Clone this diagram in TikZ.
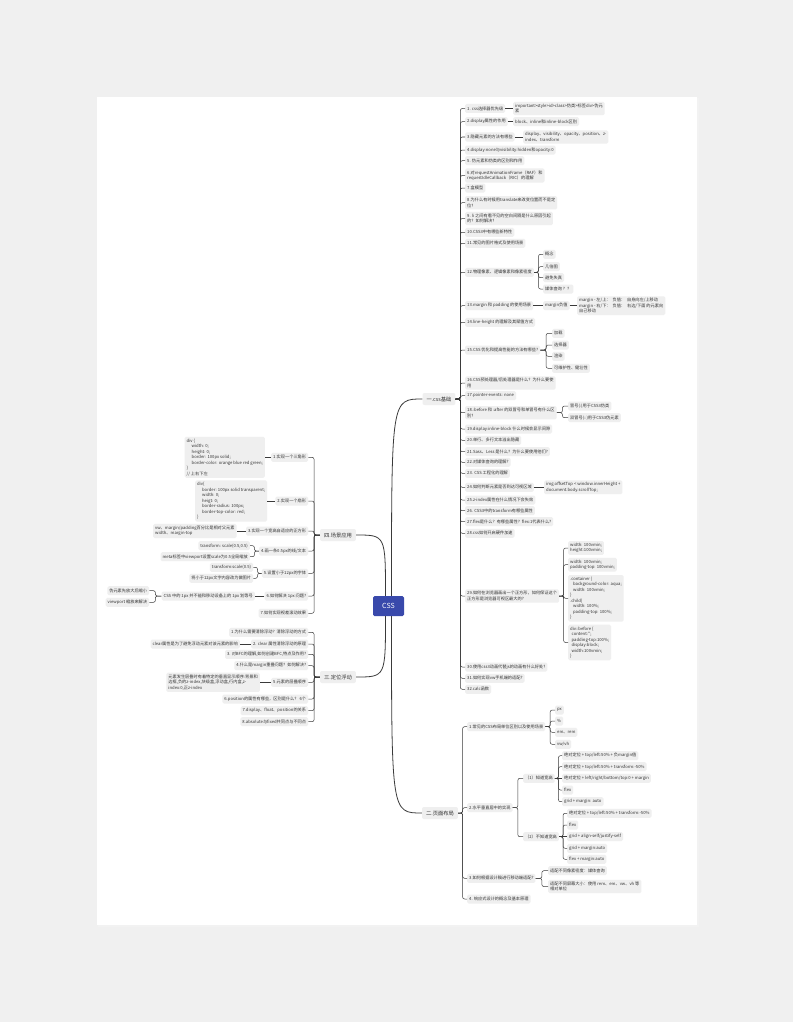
\documentclass[tikz,border=0pt]{standalone}
\usepackage{fontspec}
\setmainfont{Noto Sans CJK SC}[Ligatures=TeXOff]
\usetikzlibrary{calc}
\definecolor{boxg}{HTML}{EFEFEF}
\definecolor{txt}{HTML}{333333}
\definecolor{lnc}{HTML}{3A3A3A}
\definecolor{cssblue}{HTML}{3949AB}
\definecolor{outer}{HTML}{F0F0F0}
\tikzset{
  bx/.style={fill=boxg, rounded corners=1.5pt, inner xsep=2pt, inner ysep=2pt, minimum height=9pt, text=txt, align=left, font=\fontsize{4.2}{5.5}\selectfont},
  lw/.style={bx, anchor=west},
  le/.style={bx, anchor=east},
  brx/.style={fill=boxg, rounded corners=2pt, inner xsep=4pt, minimum height=12pt, text=txt, font=\fontsize{5.3}{6.5}\selectfont},
  conn/.style={draw=lnc, line width=0.5pt, rounded corners=2pt},
  mainc/.style={draw=lnc, line width=0.8pt},
}
\newcommand{\linkR}[2]{\draw[conn] (#1.east) -- ($(#1.east)!.5!(#2.west |- #1.east)$) |- (#2.west);}
\newcommand{\linkL}[2]{\draw[conn] (#1.west) -- ($(#1.west)!.5!(#2.east |- #1.west)$) |- (#2.east);}
\newcommand{\linkSR}[2]{\draw[conn] (#1.east) -- (#2.west);}
\newcommand{\linkSL}[2]{\draw[conn] (#1.west) -- (#2.east);}
\begin{document}
\begin{tikzpicture}[x=1pt,y=-1pt]
\useasboundingbox (0,0) rectangle (793,1022);
\fill[outer] (0,0) rectangle (793,1022);
\fill[black!5] (98,98) rectangle (699,927);
\fill[white] (97,97) rectangle (697,925);

% centre and branches
\node[fill=cssblue, text=white, rounded corners=1.5pt, minimum width=31pt, minimum height=20pt, font=\fontsize{7}{8}\selectfont] (css) at (388.5,606) {CSS};
\node[brx] (br1) at (439,399) {一.css基础};
\node[brx] (br2) at (440,813) {二.页面布局};
\node[brx] (br3) at (338,677) {三.定位浮动};
\node[brx] (br4) at (338,535) {四.场景应用};

\coordinate (s1) at ([xshift=3pt]css.north);
\coordinate (s4) at ([xshift=-3pt]css.north);
\coordinate (s2) at ([xshift=3pt]css.south);
\coordinate (s3) at ([xshift=-3pt]css.south);
\draw[mainc] (s1) .. controls (s1 |- br1.west) .. (br1.west);
\draw[mainc] (s2) .. controls (s2 |- br2.west) .. (br2.west);
\draw[mainc] (s3) .. controls (s3 |- br3.east) .. (br3.east);
\draw[mainc] (s4) .. controls (s4 |- br4.east) .. (br4.east);

% ---------------- branch 1
\node[lw] (a1) at (465,108.5) {1. css选择器优先级};
\node[lw] (a1c) at (513,108.5) {important>style>id>class>伪类>标签div>伪元\\素};
\node[lw] (a2) at (465,121.7) {2.display属性的作用};
\node[lw] (a2c) at (513,121.7) {block、inline和inline-block区别};
\node[lw] (a3) at (465,137) {3.隐藏元素的方法有哪些};
\node[lw] (a3c) at (523,137) {display、visibility、opacity、position、z-\\index、transform};
\node[lw] (a4) at (465,150) {4.display:none与visibility:hidden和opacity:0};
\node[lw] (a5) at (465,160.7) {5. 伪元素和伪类的区别和作用};
\node[lw] (a6) at (465,175.5) {6.对requestAnimationFrame（RAF）和\\requestIdleCallback（RIC）的理解};
\node[lw] (a7) at (465,188) {7.盒模型};
\node[lw] (a8) at (465,202.7) {8.为什么有时候用translate来改变位置而不是定\\位?};
\node[lw] (a9) at (465,218.5) {9. li 之间有看不见的空白间隔是什么原因引起\\的？如何解决?};
\node[lw] (a10) at (465,232.3) {10.CSS3中有哪些新特性};
\node[lw] (a11) at (465,243.3) {11.常见的图片格式及使用场景};
\node[lw] (a12) at (465,272.3) {12.物理像素、逻辑像素和像素密度};
\node[lw] (a12a) at (543,254.3) {概念};
\node[lw] (a12b) at (543,266.7) {几倍图};
\node[lw] (a12c) at (543,277.7) {避免失真};
\node[lw] (a12d) at (543,289) {媒体查询 ？？};
\node[lw] (a13) at (465,305.7) {13.margin 和 padding 的使用场景};
\node[lw] (a13a) at (543,305.7) {margin负值};
\node[lw] (a13b) at (577,305.7) {margin - 左/上：\ \ 负值：\ \ 自身向左/上移动\\margin - 右/下：\ \ 负值：\ \ 右边/下面 的元素向\\自己移动};
\node[lw] (a14) at (465,322.3) {14.line-height 的理解及其赋值方式};
\node[lw] (a15) at (465,350) {15.CSS 优化和提高性能的方法有哪些?};
\node[lw] (a15a) at (552,333.3) {加载};
\node[lw] (a15b) at (552,345) {选择器};
\node[lw] (a15c) at (552,356.3) {渲染};
\node[lw] (a15d) at (552,368.3) {可维护性、健壮性};
\node[lw] (a16) at (465,383) {16.CSS预处理器/后处理器是什么？为什么要使\\用};
\node[lw] (a17) at (465,395.7) {17.pointer-events: none};
\node[lw] (a18) at (465,412.7) {18.:before 和 :after 的双冒号和单冒号有什么区\\别?};
\node[lw] (a18a) at (568,406) {冒号(:)用于CSS3伪类};
\node[lw] (a18b) at (568,417.7) {双冒号(::)用于CSS3伪元素};
\node[lw] (a19) at (465,429) {19.display:inline-block 什么时候会显示间隙};
\node[lw] (a20) at (465,440.3) {20.单行、多行文本溢出隐藏};
\node[lw] (a21) at (465,451.7) {21.Sass、Less 是什么？为什么要使用他们?};
\node[lw] (a22) at (465,462.3) {22.对媒体查询的理解?};
\node[lw] (a23) at (465,473.3) {23. CSS 工程化的理解};
\node[lw] (a24) at (465,487.3) {24.如何判断元素是否到达可视区域};
\node[lw] (a24c) at (544,487.3) {img.offsetTop < window.innerHeight +\\document.body.scrollTop;};
\node[lw] (a25) at (465,500) {25.z-index属性在什么情况下会失效};
\node[lw] (a26) at (465,510.7) {26. CSS3中的transform有哪些属性};
\node[lw] (a27) at (465,521.7) {27.flex是什么？有哪些属性？flex:1代表什么?};
\node[lw] (a28) at (465,533.3) {28.css如何开启硬件加速};
\node[lw] (a29) at (465,596) {29.如何在浏览器画出一个正方形，如何保证这个\\正方形是浏览器可视区最大的?};
\node[lw] (a29a) at (568,548) {width: 100vmin;\\height:100vmin;};
\node[lw] (a29b) at (568,564.7) {width: 100vmin;\\padding-top: 100vmin;};
\node[lw] (a29c) at (568,598.3) {.container \{\\\hspace*{3pt}background-color: aqua;\\\hspace*{3pt}width: 100vmin;\\\}\\.child\{\\\hspace*{3pt}width: 100\%;\\\hspace*{3pt}padding-top: 100\%;\\\}};
\node[lw] (a29d) at (568,642.5) {div::before \{\\\hspace*{1.5pt}content:'';\\\hspace*{1.5pt}padding-top:100\%;\\\hspace*{1.5pt}display:block;\\\hspace*{1.5pt}width:100vmin;\\\}};
\node[lw] (a30) at (465,667) {30.使用css3动画代替js的动画有什么好处?};
\node[lw] (a31) at (465,678.3) {31.如何实现vw手机端的适配?};
\node[lw] (a32) at (465,689.3) {32.calc函数};

\foreach \n in {a1,a2,a3,a4,a5,a6,a7,a8,a9,a10,a11,a12,a13,a14,a15,a16,a17,a18,a19,a20,a21,a22,a23,a24,a25,a26,a27,a28,a29,a30,a31,a32}{\linkR{br1}{\n}}
\linkSR{a1}{a1c}
\linkSR{a2}{a2c}
\linkSR{a3}{a3c}
\foreach \n in {a12a,a12b,a12c,a12d}{\linkR{a12}{\n}}
\linkSR{a13}{a13a}
\linkSR{a13a}{a13b}
\foreach \n in {a15a,a15b,a15c,a15d}{\linkR{a15}{\n}}
\foreach \n in {a18a,a18b}{\linkR{a18}{\n}}
\linkSR{a24}{a24c}
\foreach \n in {a29a,a29b,a29c,a29d}{\linkR{a29}{\n}}

% ---------------- branch 2
\node[lw] (b1) at (467,726.7) {1.常见的CSS布局单位区别以及使用场景};
\node[lw] (b1a) at (555,710) {px};
\node[lw] (b1b) at (555,721) {\%};
\node[lw] (b1c) at (555,732.3) {em、rem};
\node[lw] (b1d) at (555,744.3) {vw/vh};
\node[lw] (b2) at (467,807.7) {2.水平垂直居中的实现};
\node[lw] (b2a) at (523,778.3) {（1）知道宽高};
\node[lw] (b2a1) at (562,755.7) {绝对定位 + top/left:50\% + 负margin值};
\node[lw] (b2a2) at (562,766.7) {绝对定位 + top/left:50\% + transform:-50\%};
\node[lw] (b2a3) at (562,778.3) {绝对定位 + left/right/bottom/top:0 + margin};
\node[lw] (b2a4) at (562,790) {flex};
\node[lw] (b2a5) at (562,801.7) {grid + margin: auto};
\node[lw] (b2b) at (523,836.7) {（2）不知道宽高};
\node[lw] (b2b1) at (567,813.3) {绝对定位 + top/left:50\% + transform:-50\%};
\node[lw] (b2b2) at (567,825) {flex};
\node[lw] (b2b3) at (567,836.7) {grid + align-self/justify-self};
\node[lw] (b2b4) at (567,848.3) {grid + margin:auto};
\node[lw] (b2b5) at (567,859.3) {flex + margin:auto};
\node[lw] (b3) at (467,878.3) {3.如何根据设计稿进行移动端适配?};
\node[lw] (b3a) at (548,870.7) {适配不同像素密度：媒体查询};
\node[lw] (b3b) at (548,886.5) {适配不同屏幕大小：使用 rem、em、vw、vh 等\\相对单位};
\node[lw] (b4) at (467,899) {4. 响应式设计的概念及基本原理};

\foreach \n in {b1,b2,b3,b4}{\linkR{br2}{\n}}
\foreach \n in {b1a,b1b,b1c,b1d}{\linkR{b1}{\n}}
\foreach \n in {b2a,b2b}{\linkR{b2}{\n}}
\foreach \n in {b2a1,b2a2,b2a4,b2a5}{\linkR{b2a}{\n}}
\linkSR{b2a}{b2a3}
\foreach \n in {b2b1,b2b2,b2b4,b2b5}{\linkR{b2b}{\n}}
\linkSR{b2b}{b2b3}
\foreach \n in {b3a,b3b}{\linkR{b3}{\n}}

% ---------------- branch 4
\node[le] (d1) at (308.3,457.3) {1.实现一个三角形};
\node[le] (d1c) at (265,457.3) {div \{\\\hspace*{5pt}width: 0;\\\hspace*{5pt}height: 0;\\\hspace*{5pt}border: 100px solid;\\\hspace*{5pt}border-color: orange blue red green;\\\}\\// 上右下左};
\node[le] (d2) at (308.3,501) {2.实现一个扇形};
\node[le] (d2c) at (267.3,501) {div\{\\\hspace*{5pt}border: 100px solid transparent;\\\hspace*{5pt}width: 0;\\\hspace*{5pt}heigt: 0;\\\hspace*{5pt}border-radius: 100px;\\\hspace*{5pt}border-top-color: red;\\\}};
\node[le] (d3) at (308.3,531) {3.实现一个宽高自适应的正方形};
\node[le] (d3c) at (236.7,531) {vw、margin/padding百分比是相对父元素\\width、margin-top};
\node[le] (d4) at (308.3,551) {4.画一条0.5px的线/文本};
\node[le] (d4a) at (250,545.7) {transform: scale(0.5,0.5)};
\node[le] (d4b) at (250,556.7) {meta标签中viewport设置scale为0.5全局缩放};
\node[le] (d5) at (308.3,573.3) {5.设置小于12px的字体};
\node[le] (d5a) at (253.3,567.3) {transform:scale(0.5)};
\node[le] (d5b) at (253.3,578.3) {将小于12px文字内容改为做图片};
\node[le] (d6) at (308.3,596) {6.如何解决 1px 问题?};
\node[le] (d6c) at (255,596) {CSS 中的 1px 并不能和移动设备上的 1px 划等号};
\node[le] (d6a) at (149.3,590.7) {伪元素先放大后缩小};
\node[le] (d6b) at (149.3,602.3) {viewport 缩放来解决};
\node[le] (d7) at (308.3,613.3) {7.如何实现视差滚动效果};

\foreach \n in {d1,d2,d3,d4,d5,d6,d7}{\linkL{br4}{\n}}
\linkSL{d1}{d1c}
\linkSL{d2}{d2c}
\linkSL{d3}{d3c}
\foreach \n in {d4a,d4b}{\linkL{d4}{\n}}
\foreach \n in {d5a,d5b}{\linkL{d5}{\n}}
\linkSL{d6}{d6c}
\foreach \n in {d6a,d6b}{\linkL{d6c}{\n}}

% ---------------- branch 3
\node[le] (c1) at (308.3,632.3) {1.为什么需要清除浮动？清除浮动的方式};
\node[le] (c2) at (308.3,644) {2. clear 属性清除浮动的原理};
\node[le] (c2c) at (240,644) {clear属性是为了避免浮动元素对该元素的影响};
\node[le] (c3) at (308.3,654.3) {3. 对BFC的理解,如何创建BFC,特点及作用?};
\node[le] (c4) at (308.3,665.7) {4.什么是margin重叠问题？如何解决?};
\node[le] (c5) at (308.3,682.3) {5.元素的层叠顺序};
\node[le] (c5c) at (260,682.3) {元素发生层叠时有着特定的垂直显示顺序:背景和\\边框,负的z-index,块级盒,浮动盒,行内盒,z-\\index:0,正z-index};
\node[le] (c6) at (308.3,699) {6.position的属性有哪些，区别是什么？ 6个};
\node[le] (c7) at (308.3,710.7) {7.display、float、position的关系};
\node[le] (c8) at (308.3,721.7) {8.absolute与fixed共同点与不同点};

\foreach \n in {c1,c2,c3,c4,c5,c6,c7,c8}{\linkL{br3}{\n}}
\linkSL{c2}{c2c}
\linkSL{c5}{c5c}
\end{tikzpicture}
\end{document}
